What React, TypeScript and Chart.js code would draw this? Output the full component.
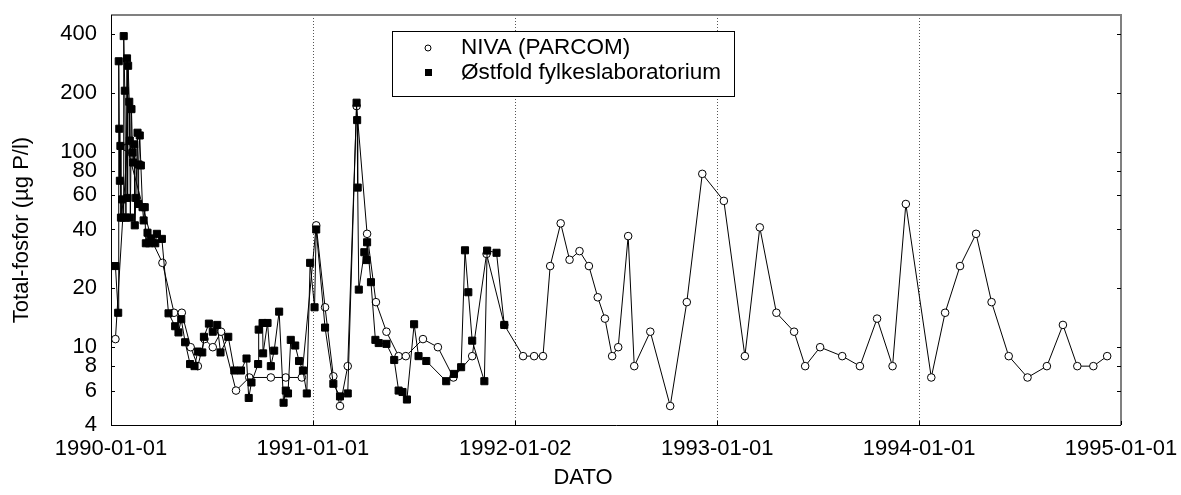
import React, { useEffect, useRef } from 'react';
import { Chart, registerables } from 'chart.js';

Chart.register(...registerables);

// x values are days since 1990-01-01
const xTickDays = [0, 365, 731, 1096, 1461, 1826];
const xTickLabels = ['1990-01-01', '1991-01-01', '1992-01-02', '1993-01-01', '1994-01-01', '1995-01-01'];
const yTickValues = [4, 6, 8, 10, 20, 40, 60, 80, 100, 200, 400];
const seriesNames = ['NIVA (PARCOM)', 'Østfold fylkeslaboratorium'];
const xTitle = 'DATO';
const yTitle = 'Total-fosfor (µg P/l)';

const nivaDays = [8, 29, 74, 93, 114, 128, 144, 157, 169, 184, 199, 226, 250, 289, 316, 345, 371, 387, 402, 414, 428, 444, 463, 479, 498, 520, 533, 564, 591, 619, 653, 679, 711, 745, 765, 781, 794, 813, 829, 847, 864, 880, 893, 906, 917, 935, 946, 975, 1011, 1041, 1069, 1108, 1146, 1173, 1203, 1235, 1255, 1282, 1322, 1354, 1385, 1413, 1437, 1483, 1508, 1535, 1564, 1592, 1623, 1657, 1692, 1721, 1747, 1776, 1801];
const nivaValues = [11, 105, 35, 27, 15, 15, 10, 8, 11, 10, 12, 6, 7, 7, 7, 7, 42, 16, 7.1, 5, 8, 171, 38, 17, 12, 9, 9, 11, 10, 7, 9, 30, 13, 9, 9, 9, 26, 43, 28, 31, 26, 18, 14, 9, 10, 37, 8, 12, 5, 17, 77, 56, 9, 41, 15, 12, 8, 10, 9, 8, 14, 8, 54, 7, 15, 26, 38, 17, 9, 7, 8, 13, 8, 8, 9];

const ostDays = [8, 13, 14, 15, 16, 17, 18, 20, 22, 23, 25, 27, 29, 30, 31, 33, 34, 35, 37, 39, 40, 42, 43, 45, 48, 49, 50, 52, 54, 57, 59, 61, 63, 66, 69, 72, 80, 83, 92, 104, 116, 122, 127, 134, 143, 151, 157, 165, 168, 177, 184, 192, 198, 212, 223, 235, 245, 249, 254, 266, 267, 274, 275, 283, 289, 295, 304, 312, 316, 320, 325, 333, 340, 347, 354, 360, 368, 371, 387, 402, 414, 428, 444, 445, 446, 448, 458, 462, 463, 470, 478, 484, 498, 512, 520, 527, 535, 548, 556, 570, 606, 620, 633, 640, 646, 653, 675, 680, 697, 711];
const ostValues = [26, 15, 290, 131, 71, 107, 46, 57, 46, 390, 205, 46, 300, 58, 275, 180, 114, 46, 165, 99, 88, 109, 42, 58, 125, 54, 86, 121, 85, 52, 44.5, 52, 34, 38.5, 34, 36, 34, 38, 35.8, 14.9, 12.8, 11.9, 13.9, 10.6, 8.2, 8, 9.5, 9.4, 11.3, 13.2, 12, 13, 9.4, 11.3, 7.6, 7.6, 8.75, 5.5, 6.6, 8.2, 12.3, 13.3, 9.3, 13.3, 8, 9.6, 15.2, 5.2, 6, 5.8, 10.9, 10.2, 8.5, 7.6, 5.8, 27, 16, 40, 12.6, 6.5, 5.6, 5.8, 178, 145, 65.5, 19.7, 30.6, 27.9, 34.4, 21.5, 10.9, 10.5, 10.4, 8.6, 6.0, 5.9, 5.4, 13.1, 9.0, 8.5, 6.7, 7.3, 7.9, 31.3, 19.1, 10.8, 6.7, 31.2, 30.4, 13];

const FONT = '"Liberation Sans", Arial, sans-serif';
const FS = 22;

const decorPlugin = {
  id: 'decor',
  beforeDatasetsDraw(chart: any) {
    const ctx = chart.ctx;
    const { top, bottom } = chart.chartArea;
    const xs = chart.scales.x;
    ctx.save();
    ctx.strokeStyle = '#555';
    ctx.lineWidth = 1;
    ctx.setLineDash([1, 2]);
    xTickDays.slice(1, -1).forEach((d) => {
      const px = Math.round(xs.getPixelForValue(d)) + 0.5;
      ctx.beginPath();
      ctx.moveTo(px, top);
      ctx.lineTo(px, bottom);
      ctx.stroke();
    });
    ctx.restore();
  },
  afterDraw(chart: any) {
    const ctx = chart.ctx;
    const { left, right, top, bottom } = chart.chartArea;
    const xs = chart.scales.x;
    const ys = chart.scales.y;
    ctx.save();
    // frame
    ctx.strokeStyle = '#808080';
    ctx.lineWidth = 2;
    ctx.beginPath();
    ctx.moveTo(left, top);
    ctx.lineTo(right, top);
    ctx.lineTo(right, bottom);
    ctx.stroke();
    ctx.strokeStyle = '#000';
    ctx.lineWidth = 1;
    ctx.beginPath();
    ctx.moveTo(Math.round(left) + 0.5, top);
    ctx.lineTo(Math.round(left) + 0.5, Math.round(bottom) + 0.5);
    ctx.lineTo(right, Math.round(bottom) + 0.5);
    ctx.stroke();
    // inward ticks
    ctx.beginPath();
    yTickValues.forEach((v) => {
      const py = Math.round(ys.getPixelForValue(v)) + 0.5;
      ctx.moveTo(left, py);
      ctx.lineTo(left + 4, py);
      ctx.moveTo(right - 4, py);
      ctx.lineTo(right, py);
    });
    xTickDays.forEach((d) => {
      const px = Math.round(xs.getPixelForValue(d)) + 0.5;
      ctx.moveTo(px, bottom);
      ctx.lineTo(px, bottom - 4);
    });
    ctx.stroke();
    // axis titles
    ctx.fillStyle = '#000';
    ctx.font = `${FS}px ${FONT}`;
    ctx.textAlign = 'center';
    ctx.textBaseline = 'middle';
    ctx.fillText(xTitle, 583, 478);
    ctx.save();
    ctx.translate(22, 230);
    ctx.rotate(-Math.PI / 2);
    ctx.fillText(yTitle, 0, 0);
    ctx.restore();
    // legend
    const bx = 392.5, by = 31.5, bw = 342, bh = 65;
    ctx.fillStyle = '#fff';
    ctx.fillRect(bx, by, bw, bh);
    ctx.strokeStyle = '#000';
    ctx.lineWidth = 1;
    ctx.strokeRect(bx, by, bw, bh);
    ctx.beginPath();
    ctx.arc(428, 48, 3, 0, Math.PI * 2);
    ctx.fillStyle = '#fff';
    ctx.fill();
    ctx.stroke();
    ctx.fillStyle = '#000';
    ctx.fillRect(425, 69, 7, 7);
    ctx.font = `${FS + 0.5}px ${FONT}`;
    ctx.textAlign = 'left';
    ctx.fillText(seriesNames[0], 461, 48);
    ctx.fillText(seriesNames[1], 461, 73);
    ctx.restore();
  },
};

export default function App() {
  const ref = useRef<HTMLCanvasElement | null>(null);
  useEffect(() => {
    if (!ref.current) return;
    const niva = nivaDays.map((d, i) => ({ x: d, y: nivaValues[i] }));
    const ost = ostDays.map((d, i) => ({ x: d, y: ostValues[i] }));
    const chart = new Chart(ref.current, {
      type: 'line',
      data: {
        datasets: [
          {
            label: seriesNames[0],
            data: niva,
            order: 2,
            borderColor: '#000',
            borderWidth: 1,
            backgroundColor: '#fff',
            pointStyle: 'circle',
            pointRadius: 3.8,
            pointBorderWidth: 1,
            pointBorderColor: '#000',
            pointBackgroundColor: '#fff',
            tension: 0,
          },
          {
            label: seriesNames[1],
            data: ost,
            order: 1,
            borderColor: '#000',
            borderWidth: 1,
            backgroundColor: '#000',
            pointStyle: 'rect',
            pointRadius: 5,
            pointBorderWidth: 1,
            pointBorderColor: '#000',
            pointBackgroundColor: '#000',
            tension: 0,
          },
        ],
      },
      options: {
        responsive: false,
        animation: false,
        devicePixelRatio: 1,
        layout: { padding: { top: 15, left: 0, right: 0, bottom: 0 } },
        plugins: { legend: { display: false }, tooltip: { enabled: false } },
        scales: {
          x: {
            type: 'linear',
            min: 0,
            max: 1826,
            grid: { display: false, drawTicks: false },
            border: { display: false },
            afterBuildTicks: (s: any) => {
              s.ticks = xTickDays.map((v) => ({ value: v }));
            },
            afterFit: (s: any) => {
              s.height = 70;
              s.paddingLeft = 0;
              s.paddingRight = 0;
            },
            ticks: {
              padding: 11,
              maxRotation: 0,
              autoSkip: false,
              color: '#000',
              font: { family: FONT, size: FS },
              callback: (v: any) => {
                const i = xTickDays.indexOf(Number(v));
                return i >= 0 ? xTickLabels[i] : '';
              },
            },
          },
          y: {
            type: 'logarithmic',
            position: 'left',
            min: 4,
            max: 500,
            grid: { display: false, drawTicks: false },
            border: { display: false },
            afterBuildTicks: (s: any) => {
              s.ticks = yTickValues.map((v) => ({ value: v }));
            },
            afterFit: (s: any) => {
              s.width = 111;
              s.paddingTop = 0;
              s.paddingBottom = 0;
            },
            ticks: {
              padding: 14,
              autoSkip: false,
              color: '#000',
              font: { family: FONT, size: FS },
              callback: (v: any) => String(v),
            },
          },
          y2: {
            type: 'logarithmic',
            position: 'right',
            min: 4,
            max: 500,
            grid: { display: false, drawTicks: false },
            border: { display: false },
            ticks: { display: false },
            afterFit: (s: any) => {
              s.width = 60;
            },
          },
        },
      },
      plugins: [decorPlugin],
    });
    return () => chart.destroy();
  }, []);
  return (
    <div style={{ position: 'fixed', left: 0, top: 0, width: 1181, height: 495, background: '#fff' }}>
      <canvas ref={ref} width={1181} height={495} style={{ display: 'block' }} />
    </div>
  );
}
